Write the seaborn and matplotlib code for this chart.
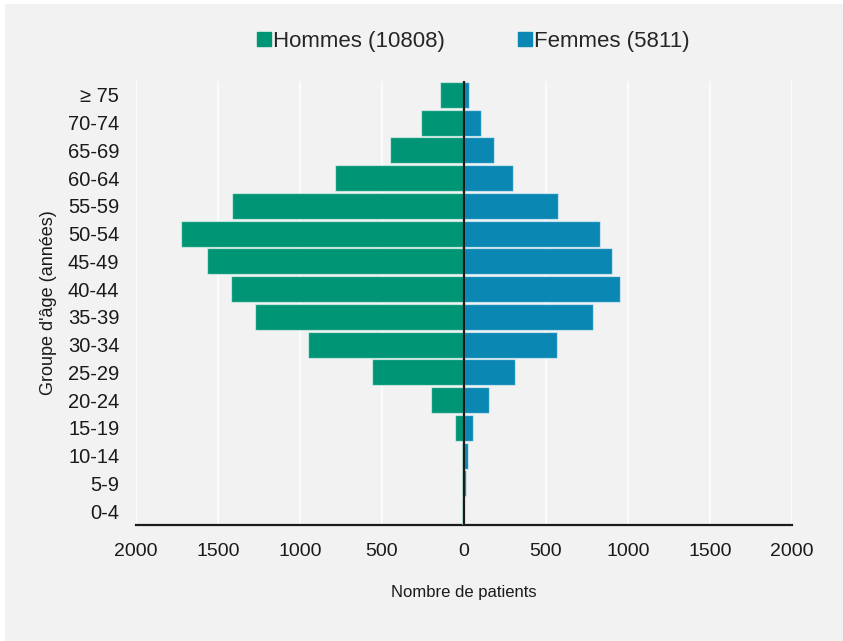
import numpy as np
import pandas as pd
import matplotlib.pyplot as plt
import seaborn as sns
from matplotlib.lines import Line2D
from matplotlib.patches import Rectangle

# Data
age_groups = ['≥ 75', '70-74', '65-69', '60-64', '55-59', '50-54', '45-49', '40-44',
              '35-39', '30-34', '25-29', '20-24', '15-19', '10-14', '5-9', '0-4']
hommes = [145, 260, 450, 787, 1414, 1728, 1570, 1422, 1274, 954, 564, 201, 53, 12, 12, 10]
femmes = [28, 103, 185, 300, 572, 828, 903, 951, 787, 566, 310, 152, 53, 22, 10, 3]
x_ticks = [-2000, -1500, -1000, -500, 0, 500, 1000, 1500, 2000]
legend_labels = ['Hommes (10808)', 'Femmes (5811)']

green = '#009675'
blue = '#0a88b3'
bg = '#f2f2f2'

df = pd.DataFrame({
    'age': age_groups * 2,
    'n': [-v for v in hommes] + femmes,
    'sexe': ['Hommes'] * len(hommes) + ['Femmes'] * len(femmes),
})

sns.set_style('white')
plt.rcParams['font.family'] = ['Liberation Sans', 'DejaVu Sans']

fig = plt.figure(figsize=(8.43, 6.41), dpi=100, facecolor='white')
fig.patches.append(Rectangle((5 / 843, 0), 1, 1 - 4 / 641, transform=fig.transFigure,
                             facecolor=bg, edgecolor='none', zorder=-10))
ax = fig.add_axes([136 / 843, 1 - 525 / 641, 656 / 843, 444 / 641])
ax.set_facecolor(bg)

sns.barplot(data=df, x='n', y='age', hue='sexe', order=age_groups, dodge=False,
            palette={'Hommes': green, 'Femmes': blue}, saturation=1, width=0.94, orient='h',
            edgecolor=(1, 1, 1, 0.55), linewidth=0.9, legend=False, ax=ax, zorder=3)

ax.set_xlim(-2000, 2000)
ax.set_ylim(len(age_groups) - 0.5, -0.5)
ax.set_xticks(x_ticks)
ax.set_xticklabels([str(abs(t)) for t in x_ticks], fontsize=14)
ax.tick_params(axis='both', length=0, colors='#1a1a1a')
ax.tick_params(axis='x', pad=13)
ax.tick_params(axis='y', labelsize=14.5, pad=12)
for t in x_ticks:
    ax.axvline(t, color='white', lw=1.2, zorder=1)
ax.axvline(0, color='#1a1a1a', lw=1.6, zorder=5)

for s in ['top', 'right', 'left']:
    ax.spines[s].set_visible(False)
ax.spines['bottom'].set_color('#1a1a1a')
ax.spines['bottom'].set_linewidth(1.6)

ax.set_xlabel('Nombre de patients', fontsize=12, labelpad=18, color='#1a1a1a')
ax.set_ylabel("Groupe d'âge (années)", fontsize=13, labelpad=8, color='#1a1a1a')

handles = [Line2D([], [], marker='s', linestyle='', markersize=9.5, color=c) for c in (green, blue)]
fig.legend(handles, legend_labels, loc='center', bbox_to_anchor=(0.560, 0.935), ncol=2,
           frameon=False, fontsize=16, handletextpad=0.0, columnspacing=3.2, handlelength=0.8)

fig.savefig('out.png', dpi=100, facecolor=fig.get_facecolor())
